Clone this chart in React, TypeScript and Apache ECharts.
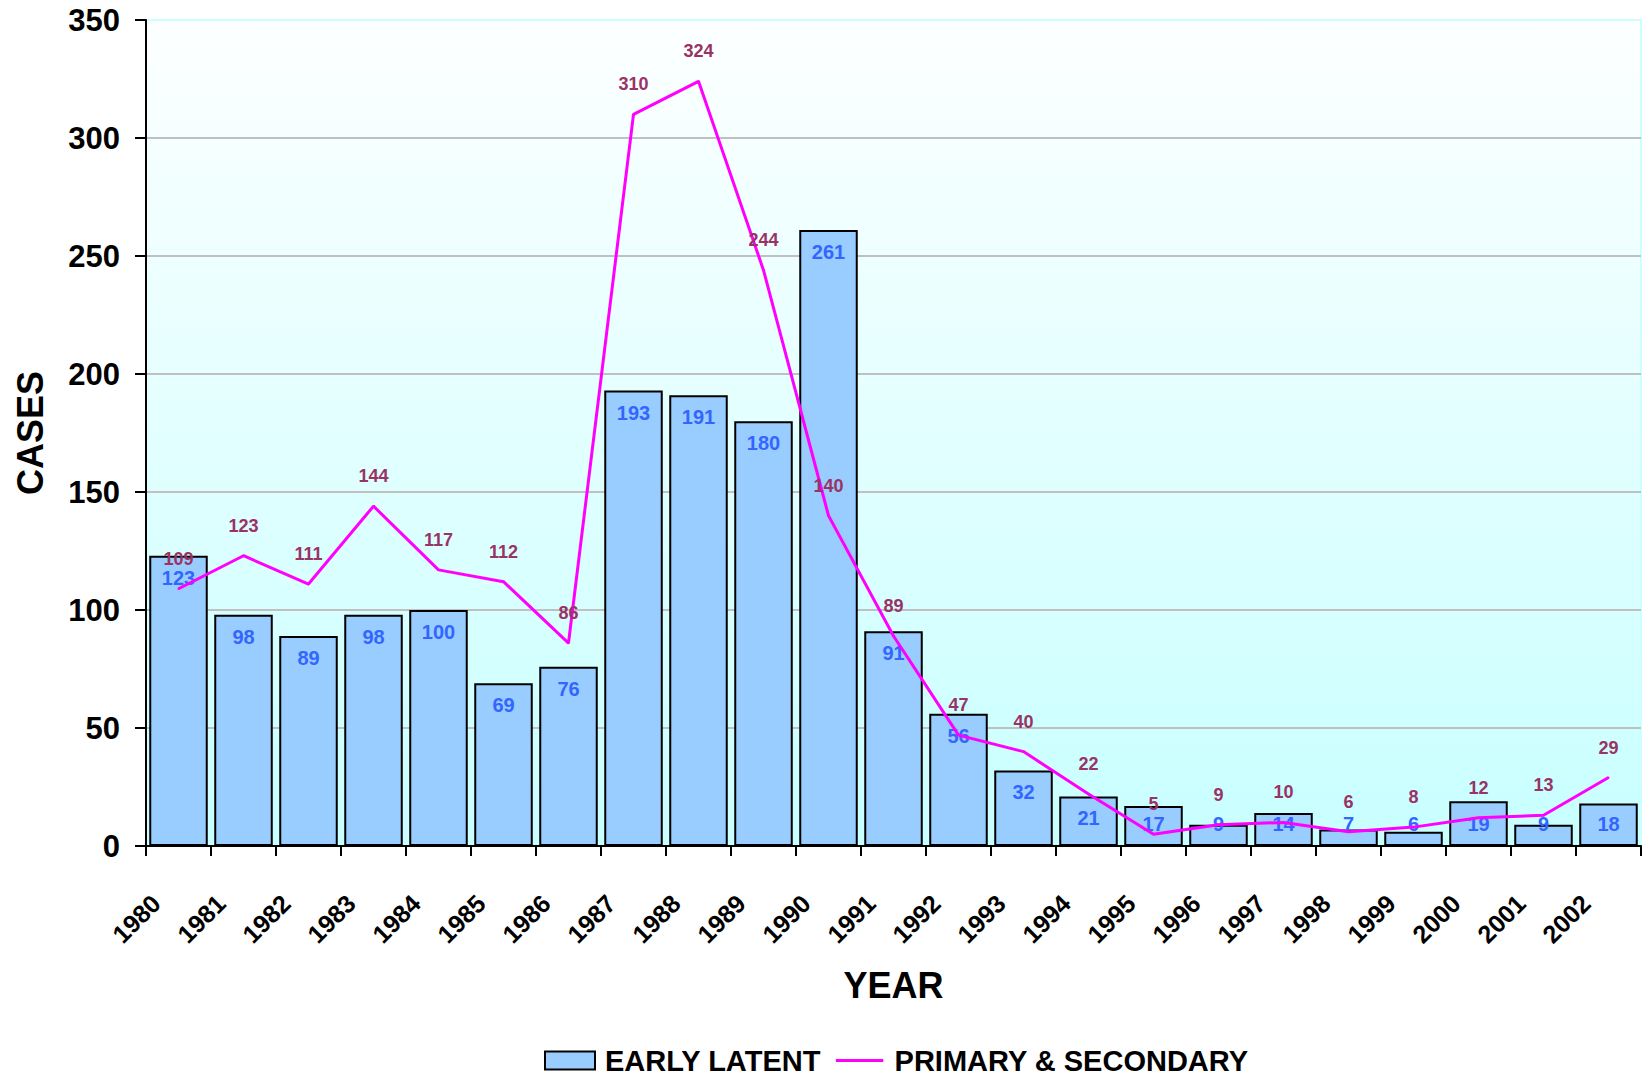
import React, { useEffect, useRef } from "react";
import * as echarts from "echarts";

const years = [
  "1980", "1981", "1982", "1983", "1984", "1985", "1986", "1987", "1988", "1989", "1990", "1991",
  "1992", "1993", "1994", "1995", "1996", "1997", "1998", "1999", "2000", "2001", "2002",
];
const earlyLatent = [123, 98, 89, 98, 100, 69, 76, 193, 191, 180, 261, 91, 56, 32, 21, 17, 9, 14, 7, 6, 19, 9, 18];
const primarySecondary = [109, 123, 111, 144, 117, 112, 86, 310, 324, 244, 140, 89, 47, 40, 22, 5, 9, 10, 6, 8, 12, 13, 29];
const yMin = 0;
const yMax = 350;
const yStep = 50;

const FONT = '"Liberation Sans", Arial, Helvetica, sans-serif';

export default function App() {
  const ref = useRef<HTMLDivElement>(null);

  useEffect(() => {
    document.body.style.margin = "0";
    if (!ref.current) return;
    const chart = echarts.init(ref.current, null, { renderer: "svg" });

    const gridLeft = 146;
    const gridWidth = 1495;
    const gridTop = 20;
    const gridBottom = 230;
    const catW = gridWidth / years.length;

    chart.setOption({
      animation: false,
      backgroundColor: "#ffffff",
      textStyle: { fontFamily: FONT },
      grid: [
        {
          left: gridLeft,
          width: gridWidth,
          top: gridTop,
          bottom: gridBottom,
          show: true,
          borderColor: "#ccffff",
          borderWidth: 2,
          backgroundColor: new echarts.graphic.LinearGradient(0, 0, 0, 1, [
            { offset: 0, color: "#fdffff" },
            { offset: 1, color: "#c8ffff" },
          ]),
        },
        {
          left: gridLeft + 10 - catW / 2,
          width: gridWidth,
          top: gridTop,
          bottom: gridBottom,
          show: false,
        },
      ],
      legend: {
        left: 544,
        top: 1046,
        padding: 0,
        itemWidth: 50,
        itemHeight: 18,
        itemGap: 15,
        textStyle: {
          fontFamily: FONT,
          fontSize: 29,
          fontWeight: "bold",
          color: "#000000",
          padding: [0, 0, 0, 5],
        },
        data: [
          { name: "EARLY LATENT", icon: "rect" },
          {
            name: "PRIMARY & SECONDARY",
            icon: "path://M0,0L50,0L0,0Z M0,8L50,8L50,11L0,11Z M0,19L50,19L0,19Z",
            itemStyle: { borderWidth: 0 },
          },
        ],
      },
      xAxis: [
        {
          type: "category",
          gridIndex: 0,
          data: years,
          boundaryGap: true,
          name: "YEAR",
          nameLocation: "middle",
          nameGap: 121,
          nameTextStyle: { fontFamily: FONT, fontSize: 36, fontWeight: "bold", color: "#000000" },
          axisLine: { show: true, lineStyle: { color: "#000000", width: 2 } },
          axisTick: { show: true, length: 10, alignWithLabel: false, lineStyle: { color: "#000000", width: 2 } },
          axisLabel: { show: false },
          splitLine: { show: false },
        },
        {
          type: "category",
          gridIndex: 1,
          data: years,
          boundaryGap: true,
          axisLine: { show: false },
          axisTick: { show: false },
          axisLabel: {
            show: true,
            interval: 0,
            rotate: 45,
            margin: 53,
            fontFamily: FONT,
            fontSize: 25,
            fontWeight: "bold",
            color: "#000000",
          },
          splitLine: { show: false },
        },
      ],
      yAxis: [
        {
          type: "value",
          gridIndex: 0,
          min: yMin,
          max: yMax,
          interval: yStep,
          name: "CASES",
          nameLocation: "middle",
          nameRotate: 90,
          nameGap: 98,
          nameTextStyle: { fontFamily: FONT, fontSize: 36, fontWeight: "bold", color: "#000000" },
          axisLine: { show: true, lineStyle: { color: "#000000", width: 2 } },
          axisTick: { show: true, length: 11, lineStyle: { color: "#000000", width: 2 } },
          axisLabel: { margin: 26, fontFamily: FONT, fontSize: 31, fontWeight: "bold", color: "#000000" },
          splitLine: { show: true, showMaxLine: false, lineStyle: { color: "#c0c0c0", width: 2 } },
        },
        {
          type: "value",
          gridIndex: 1,
          min: yMin,
          max: yMax,
          interval: yStep,
          show: false,
        },
      ],
      series: [
        {
          name: "EARLY LATENT",
          type: "bar",
          xAxisIndex: 0,
          yAxisIndex: 0,
          barCategoryGap: "10%",
          itemStyle: { color: "#99ccff", borderColor: "#000000", borderWidth: 2 },
          label: {
            show: true,
            fontFamily: FONT,
            fontSize: 20,
            fontWeight: "bold",
            color: "#3366ff",
          },
          data: earlyLatent.map((v) => ({
            value: v,
            label: v >= 20 ? { position: "insideTop", distance: 12 } : { position: "insideBottom", distance: 12 },
          })),
          z: 2,
        },
        {
          name: "PRIMARY & SECONDARY",
          type: "line",
          xAxisIndex: 0,
          yAxisIndex: 0,
          symbol: "circle",
          symbolSize: 2,
          showSymbol: true,
          itemStyle: { color: "#ff00ff" },
          lineStyle: { color: "#ff00ff", width: 3 },
          label: {
            show: true,
            position: "top",
            distance: 20,
            fontFamily: FONT,
            fontSize: 18,
            fontWeight: "bold",
            color: "#993366",
          },
          data: primarySecondary,
          z: 3,
        },
      ],
    });

    return () => {
      chart.dispose();
    };
  }, []);

  return <div ref={ref} style={{ width: 1642, height: 1076 }} />;
}
